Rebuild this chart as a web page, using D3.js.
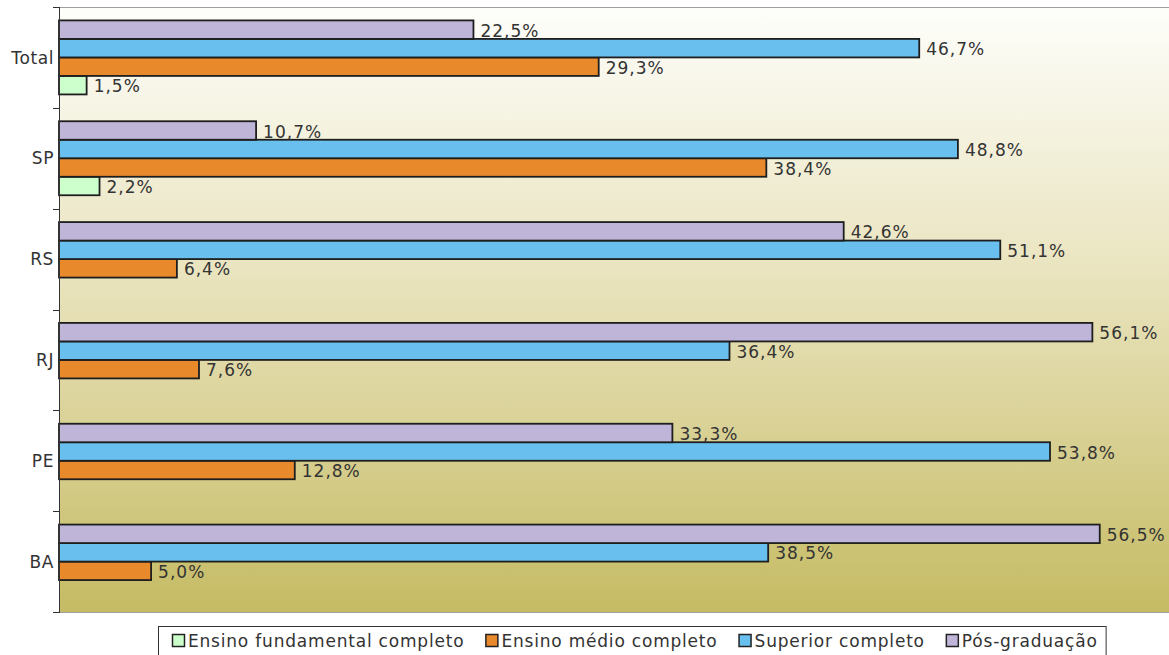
<!DOCTYPE html>
<html>
<head>
<meta charset="utf-8">
<script src="https://cdn.jsdelivr.net/npm/d3@7/dist/d3.min.js"></script>
<style>
  html, body { margin: 0; padding: 0; background: #ffffff; }
  svg { display: block; }
  text { font-family: "DejaVu Sans", Verdana, sans-serif; fill: #333333; }
</style>
</head>
<body>
<svg id="chart" width="1169" height="655"></svg>
<script>
// Regions, top to bottom
const categories = ["Total", "SP", "RS", "RJ", "PE", "BA"];

// Education level series (percent); null = not present
const fundamental = [1.5, 2.2, null, null, null, null];
const medio       = [29.3, 38.4, 6.4, 7.6, 12.8, 5.0];
const superior    = [46.7, 48.8, 51.1, 36.4, 53.8, 38.5];
const posGrad     = [22.5, 10.7, 42.6, 56.1, 33.3, 56.5];

const seriesNames = ["Ensino fundamental completo", "Ensino médio completo", "Superior completo", "Pós-graduação"];
const seriesValues = [fundamental, medio, superior, posGrad];
const seriesColors = ["#ccffcc", "#e8892c", "#69c0ee", "#bfb5d8"];

const svg = d3.select("#chart");
const plot = { left: 59, right: 1169, top: 7, bottom: 612 };

// Background gradient of the plot area
const defs = svg.append("defs");
const grad = defs.append("linearGradient").attr("id", "bg").attr("x1", 0).attr("y1", 0).attr("x2", 0).attr("y2", 1);
grad.append("stop").attr("offset", "0%").attr("stop-color", "#fefefb");
grad.append("stop").attr("offset", "45%").attr("stop-color", "#e9e3bd");
grad.append("stop").attr("offset", "100%").attr("stop-color", "#c5bb64");

svg.append("rect")
  .attr("x", plot.left).attr("y", plot.top)
  .attr("width", plot.right - plot.left).attr("height", plot.bottom - plot.top)
  .attr("fill", "url(#bg)");

// top and bottom borders of plot area
svg.append("line").attr("x1", plot.left).attr("x2", plot.right).attr("y1", plot.top + 0.5).attr("y2", plot.top + 0.5)
  .attr("stroke", "#a0a0a0").attr("stroke-width", 1);
svg.append("line").attr("x1", plot.left).attr("x2", plot.right).attr("y1", plot.bottom + 0.5).attr("y2", plot.bottom + 0.5)
  .attr("stroke", "#a0a0a0").attr("stroke-width", 1);

// Scales
const x = d3.scaleLinear().domain([0, 60.26]).range([plot.left, plot.right]);
const y0 = d3.scaleBand().domain(categories).range([plot.top, plot.bottom]).paddingInner(0.266).paddingOuter(0.133);
// within each group, Pós-graduação on top, fundamental at the bottom
const y1 = d3.scaleBand().domain(d3.range(seriesNames.length).reverse()).range([0, y0.bandwidth()]);

// Bars
const rows = [];
categories.forEach((c, ci) => {
  seriesValues.forEach((vals, si) => {
    if (vals[ci] != null) rows.push({ cat: c, s: si, v: vals[ci] });
  });
});

const g = svg.append("g");
g.selectAll("rect.bar").data(rows).join("rect")
  .attr("class", "bar")
  .attr("x", x(0))
  .attr("y", d => y0(d.cat) + y1(d.s))
  .attr("width", d => x(d.v) - x(0))
  .attr("height", y1.bandwidth())
  .attr("fill", d => seriesColors[d.s])
  .attr("stroke", "#1e1e1e")
  .attr("stroke-width", 1.8);

// Value labels
const fmt = v => d3.format(".1f")(v).replace(".", ",") + "%";
g.selectAll("text.val").data(rows).join("text")
  .attr("class", "val")
  .attr("x", d => x(d.v) + 7)
  .attr("y", d => y0(d.cat) + y1(d.s) + y1.bandwidth() / 2 + 1)
  .attr("dy", "0.36em")
  .attr("font-size", 17)
  .attr("letter-spacing", 1.0)
  .text(d => fmt(d.v));

// Category axis
const step = y0.step();
const tickYs = d3.range(categories.length + 1).map(i => plot.top + i * step);
svg.append("line").attr("x1", plot.left + 0.5).attr("x2", plot.left + 0.5).attr("y1", plot.top).attr("y2", plot.bottom + 1)
  .attr("stroke", "#333333").attr("stroke-width", 1);
svg.selectAll("line.tick").data(tickYs).join("line")
  .attr("class", "tick")
  .attr("x1", plot.left - 6).attr("x2", plot.left)
  .attr("y1", d => Math.round(d) + 0.5).attr("y2", d => Math.round(d) + 0.5)
  .attr("stroke", "#333333").attr("stroke-width", 1);
svg.selectAll("text.cat").data(categories).join("text")
  .attr("class", "cat")
  .attr("x", plot.left - 5)
  .attr("y", d => y0(d) + y0.bandwidth() / 2)
  .attr("dy", "0.36em")
  .attr("text-anchor", "end")
  .attr("font-size", 17)
  .attr("letter-spacing", 0.6)
  .text(d => d);

// Legend
const legend = svg.append("g");
const legBox = legend.append("rect")
  .attr("x", 158.5).attr("y", 626.5).attr("height", 40)
  .attr("fill", "#ffffff").attr("stroke", "#333333").attr("stroke-width", 1);
let lx = 172;
seriesNames.forEach((name, i) => {
  legend.append("rect")
    .attr("x", lx + 0.5).attr("y", 634.5).attr("width", 12).attr("height", 12)
    .attr("fill", seriesColors[i]).attr("stroke", "#222222").attr("stroke-width", 1.5);
  const t = legend.append("text")
    .attr("x", lx + 16).attr("y", 647)
    .attr("font-size", 17)
    .attr("letter-spacing", 0.8)
    .text(name);
  const w = t.node().getComputedTextLength();
  lx = lx + 16 + w + 21;
});
legBox.attr("width", lx - 21 + 8 - 158);
</script>
</body>
</html>
